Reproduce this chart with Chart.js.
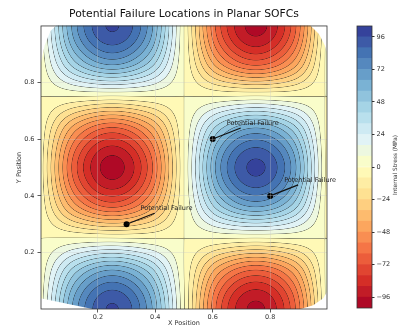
<!DOCTYPE html>
<html>
<head>
<meta charset="utf-8">
<script src="https://cdn.jsdelivr.net/npm/chart.js@4.4.1/dist/chart.umd.min.js"></script>
<style>
  html, body { margin: 0; padding: 0; background: #fff; }
  #wrap { position: relative; width: 398px; height: 325px; overflow: hidden; }
  #wrap canvas { position: absolute; top: 0; }
</style>
</head>
<body>
<div id="wrap">
  <canvas id="plot" width="398" height="325" style="left:0"></canvas>
  <canvas id="cbar" width="58" height="325" style="left:340px"></canvas>
</div>
<script>
const FONT = 'DejaVu Sans';

// stress sample grid (MPa), rows go from y = 0 (bottom) to y = 1 (top)
const gridX = [0, 0.125, 0.25, 0.375, 0.5, 0.625, 0.75, 0.875, 1];
const gridY = [0, 0.125, 0.25, 0.375, 0.5, 0.625, 0.75, 0.875, 1];
const stress = [
  [ 3,  70,   97,  70, 1, -70, -98, -70,  5],
  [ 2,  50,   70,  50, 0, -50, -70, -50,  4],
  [ 0,   1,    1,   0, 0,   0,  -1,   0,  0],
  [-2, -50,  -71, -50, 0,  50,  70,  50, -4],
  [-3, -71, -100, -71, 0,  71,  98,  71, -5],
  [-2, -50,  -71, -50, 0,  50,  70,  50, -4],
  [ 0,   0,   -1,   0, 0,   0,   1,   0,  0],
  [ 2,  50,   70,  50, 0, -50, -71, -50,  4],
  [ 3,  71,   97,  71, 0, -71, -99, -71,  5]
];

// outline of the sampled region (corners outside it stay blank)
const hullX = [0, 0, 0.015, 0.035, 0.055, 0.94, 0.97, 0.99, 1, 1, 0.985, 0.95, 0.9, 0.19];
const hullY = [0.04, 0.86, 0.93, 0.98, 1, 1, 0.97, 0.93, 0.9, 0.065, 0.04, 0.015, 0, 0];

const levels = [-104, -96, -88, -80, -72, -64, -56, -48, -40, -32, -24, -16, -8, 0,
                8, 16, 24, 32, 40, 48, 56, 64, 72, 80, 88, 96, 104];

const failureX = [0.3, 0.6, 0.8];
const failureY = [0.3, 0.6, 0.4];
const failureLabels = ['Potential Failure', 'Potential Failure', 'Potential Failure'];

const xTicks = [0.2, 0.4, 0.6, 0.8];
const yTicks = [0.2, 0.4, 0.6, 0.8];
const cbarTicks = [-96, -72, -48, -24, 0, 24, 48, 72, 96];

// RdYlBu colormap
const RDYLBU = [[165,0,38],[215,48,39],[244,109,67],[253,174,97],[254,224,144],[255,255,191],
                [224,243,248],[171,217,233],[116,173,209],[69,117,180],[49,54,149]];
function cmap(t) {
  t = Math.max(0, Math.min(1, t));
  const f = t * 10, i = Math.min(9, Math.floor(f)), u = f - i;
  return RDYLBU[i].map((c, k) => Math.round(c + (RDYLBU[i + 1][k] - c) * u));
}
const nBands = levels.length - 1;
const bandColors = [];
for (let k = 0; k < nBands; k++) bandColors.push(cmap((k + 0.5) / nBands));

function val(j, i) {
  const n = gridX.length, m = gridY.length;
  if (j < 0) j = 1; else if (j > m - 1) j = m - 2;
  if (i < 0) return 2 * stress[j][0] - stress[j][1];
  if (i > n - 1) return 2 * stress[j][n - 1] - stress[j][n - 2];
  return stress[j][i];
}
function locate(arr, v) {
  let i = 0;
  while (i < arr.length - 2 && v > arr[i + 1]) i++;
  const t = (v - arr[i]) / (arr[i + 1] - arr[i]);
  return [i, Math.max(0, Math.min(1, t))];
}
function cr(p0, p1, p2, p3, t) {
  return 0.5 * (2 * p1 + (-p0 + p2) * t + (2 * p0 - 5 * p1 + 4 * p2 - p3) * t * t +
    (-p0 + 3 * p1 - 3 * p2 + p3) * t * t * t);
}
function sampleStress(x, y) {
  const [i, tx] = locate(gridX, x);
  const [j, ty] = locate(gridY, y);
  const r = [];
  for (let d = -1; d <= 2; d++) {
    r.push(cr(val(j + d, i - 1), val(j + d, i), val(j + d, i + 1), val(j + d, i + 2), tx));
  }
  return cr(r[0], r[1], r[2], r[3], ty);
}

const contourPlugin = {
  id: 'contourFill',
  beforeDatasetsDraw(chart) {
    const {ctx, chartArea: a, scales: {x: xs, y: ys}} = chart;
    const x0 = Math.floor(a.left), y0 = Math.floor(a.top);
    const w = Math.ceil(a.right) - x0, h = Math.ceil(a.bottom) - y0;
    const field = new Float32Array(w * h);
    for (let j = 0; j < h; j++) {
      const yv = ys.getValueForPixel(y0 + j + 0.5);
      for (let i = 0; i < w; i++) {
        field[j * w + i] = sampleStress(xs.getValueForPixel(x0 + i + 0.5), yv);
      }
    }
    const step = levels[1] - levels[0];
    const img = new ImageData(w, h);
    for (let j = 0; j < h; j++) {
      for (let i = 0; i < w; i++) {
        const v = field[j * w + i];
        const k = Math.max(0, Math.min(nBands - 1, Math.floor((v - levels[0]) / step)));
        const c = bandColors[k];
        const il = Math.max(0, i - 1), ir = Math.min(w - 1, i + 1);
        const jt = Math.max(0, j - 1), jb = Math.min(h - 1, j + 1);
        const gx = (field[j * w + ir] - field[j * w + il]) / (ir - il);
        const gy = (field[jb * w + i] - field[jt * w + i]) / (jb - jt);
        const g = Math.hypot(gx, gy) + 1e-6;
        const r = (v - levels[0]) / step;
        const dist = Math.abs(r - Math.round(r)) * step / g;
        const al = 0.5 * Math.max(0, 1 - dist / 0.6);
        const p = (j * w + i) * 4;
        img.data[p] = c[0] * (1 - al) + 20 * al;
        img.data[p + 1] = c[1] * (1 - al) + 20 * al;
        img.data[p + 2] = c[2] * (1 - al) + 20 * al;
        img.data[p + 3] = 255;
      }
    }
    const off = document.createElement('canvas');
    off.width = w; off.height = h;
    off.getContext('2d').putImageData(img, 0, 0);
    ctx.save();
    ctx.beginPath();
    hullX.forEach((hx, k) => {
      const px = xs.getPixelForValue(hx), py = ys.getPixelForValue(hullY[k]);
      if (k === 0) ctx.moveTo(px, py); else ctx.lineTo(px, py);
    });
    ctx.closePath();
    ctx.clip();
    ctx.drawImage(off, x0, y0);
    ctx.restore();
  }
};

const notePlugin = {
  id: 'failureNotes',
  afterDatasetsDraw(chart) {
    const {ctx, scales: {x: xs, y: ys}} = chart;
    ctx.save();
    failureX.forEach((fx, k) => {
      const px = xs.getPixelForValue(fx), py = ys.getPixelForValue(failureY[k]);
      ctx.strokeStyle = '#111';
      ctx.lineWidth = 1.2;
      ctx.beginPath();
      ctx.moveTo(px + 28, py - 11);
      ctx.lineTo(px, py);
      ctx.stroke();
      ctx.fillStyle = '#222';
      ctx.font = '6.5px "' + FONT + '"';
      ctx.textAlign = 'left';
      ctx.textBaseline = 'middle';
      ctx.fillText(failureLabels[k], px + 14, py - 16);
    });
    ctx.restore();
  },
  afterDraw(chart) {
    const {ctx, chartArea: a} = chart;
    ctx.save();
    ctx.strokeStyle = '#333';
    ctx.lineWidth = 0.8;
    ctx.strokeRect(a.left, a.top, a.right - a.left, a.bottom - a.top);
    ctx.restore();
  }
};

const tickFont = {family: FONT, size: 6.5};

new Chart(document.getElementById('plot'), {
  type: 'scatter',
  data: {
    datasets: [{
      data: failureX.map((x, k) => ({x: x, y: failureY[k]})),
      pointRadius: 3,
      backgroundColor: '#000',
      borderWidth: 0
    }]
  },
  options: {
    responsive: false,
    animation: false,
    layout: {padding: {left: 0, right: 71, top: 0, bottom: 0}, autoPadding: false},
    plugins: {
      legend: {display: false},
      tooltip: {enabled: false},
      title: {
        display: true,
        text: 'Potential Failure Locations in Planar SOFCs',
        fullSize: false,
        color: '#111',
        font: {family: FONT, size: 10.8, weight: 'normal', lineHeight: 1.2},
        padding: {top: 8, bottom: 5}
      }
    },
    scales: {
      x: {
        type: 'linear', min: 0.002, max: 0.998,
        afterBuildTicks: s => { s.ticks = xTicks.map(v => ({value: v})); },
        afterFit: s => { s.height = 16; },
        ticks: {font: tickFont, color: '#333', padding: 1, maxRotation: 0, callback: v => v.toFixed(1)},
        grid: {z: 1, color: 'rgba(200,200,200,0.4)', lineWidth: 0.8, tickColor: '#333', tickLength: 3.5},
        border: {display: false},
        title: {display: true, text: 'X Position', color: '#333', font: {family: FONT, size: 6.5}, padding: {bottom: -2}}
      },
      y: {
        type: 'linear', min: 0.002, max: 0.998,
        afterBuildTicks: s => { s.ticks = yTicks.map(v => ({value: v})); },
        afterFit: s => { s.width = 41; },
        ticks: {font: tickFont, color: '#333', padding: 3, callback: v => v.toFixed(1)},
        grid: {z: 1, color: 'rgba(200,200,200,0.4)', lineWidth: 0.8, tickColor: '#333', tickLength: 3.5},
        border: {display: false},
        title: {display: true, text: 'Y Position', color: '#333', font: {family: FONT, size: 6.5}, padding: {top: 15}}
      }
    }
  },
  plugins: [contourPlugin, notePlugin]
});

const cbarPlugin = {
  id: 'cbarFrame',
  afterDraw(chart) {
    const {ctx, chartArea: a} = chart;
    ctx.save();
    ctx.strokeStyle = '#333';
    ctx.lineWidth = 0.8;
    ctx.strokeRect(a.left, a.top, a.right - a.left, a.bottom - a.top);
    ctx.translate(55, (a.top + a.bottom) / 2 - 2);
    ctx.rotate(-Math.PI / 2);
    ctx.fillStyle = '#333';
    ctx.font = '5.8px "' + FONT + '"';
    ctx.textAlign = 'center';
    ctx.textBaseline = 'middle';
    ctx.fillText('Internal Stress (MPa)', 0, 0);
    ctx.restore();
  }
};

new Chart(document.getElementById('cbar'), {
  type: 'bar',
  data: {
    labels: [''],
    datasets: bandColors.map((c, k) => ({
      data: [[levels[k], levels[k + 1]]],
      backgroundColor: 'rgb(' + c.join(',') + ')',
      borderWidth: 0,
      grouped: false,
      barPercentage: 1,
      categoryPercentage: 1
    }))
  },
  options: {
    responsive: false,
    animation: false,
    layout: {padding: {left: 17, right: 0, top: 26, bottom: 17}, autoPadding: false},
    plugins: {legend: {display: false}, tooltip: {enabled: false}},
    scales: {
      x: {display: false},
      y: {
        position: 'right', min: levels[0], max: levels[levels.length - 1],
        afterBuildTicks: s => { s.ticks = cbarTicks.map(v => ({value: v})); },
        afterFit: s => { s.width = 26; },
        ticks: {font: tickFont, color: '#333', padding: 2,
                callback: v => v < 0 ? '\u2212' + Math.abs(v) : String(v)},
        grid: {drawOnChartArea: false, tickColor: '#333', tickLength: 2.5},
        border: {display: false}
      }
    }
  },
  plugins: [cbarPlugin]
});
</script>
</body>
</html>
